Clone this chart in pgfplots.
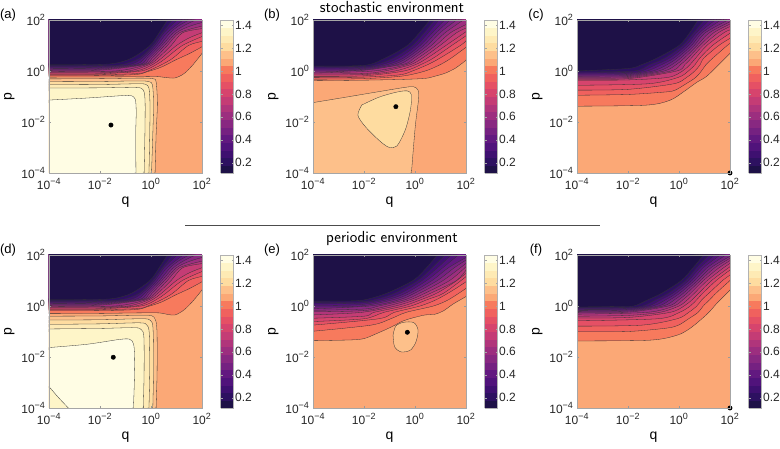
\documentclass[border=0pt]{standalone}
\usepackage{fontspec}
\setmainfont{Liberation Sans}
\usepackage{pgfplots}
\pgfplotsset{compat=1.18}
% band colours, lowest to highest (20 levels, 0.11 ... 1.445)
\definecolor{b0}{RGB}{30,17,71}    \definecolor{b1}{RGB}{45,17,96}
\definecolor{b2}{RGB}{62,16,112}   \definecolor{b3}{RGB}{80,19,123}
\definecolor{b4}{RGB}{98,25,128}   \definecolor{b5}{RGB}{117,33,129}
\definecolor{b6}{RGB}{136,40,129}  \definecolor{b7}{RGB}{156,46,127}
\definecolor{b8}{RGB}{176,53,123}  \definecolor{b9}{RGB}{196,60,117}
\definecolor{b10}{RGB}{214,68,109} \definecolor{b11}{RGB}{229,80,101}
\definecolor{b12}{RGB}{240,97,94}  \definecolor{b13}{RGB}{247,122,93}
\definecolor{b14}{RGB}{251,168,118} \definecolor{b15}{RGB}{253,192,138}
\definecolor{b16}{RGB}{254,220,160} \definecolor{b17}{RGB}{254,234,180}
\definecolor{b18}{RGB}{254,245,200} \definecolor{b19}{RGB}{255,253,228}
\pgfplotsset{
  colormap={bands}{
    rgb255=(30,17,71) rgb255=(45,17,96) rgb255=(62,16,112) rgb255=(80,19,123)
    rgb255=(98,25,128) rgb255=(117,33,129) rgb255=(136,40,129) rgb255=(156,46,127)
    rgb255=(176,53,123) rgb255=(196,60,117) rgb255=(214,68,109) rgb255=(229,80,101)
    rgb255=(240,97,94) rgb255=(247,122,93) rgb255=(251,168,118) rgb255=(253,192,138)
    rgb255=(254,220,160) rgb255=(254,234,180) rgb255=(254,245,200) rgb255=(255,253,228)},
}
\newcommand\tl[1]{10\textsuperscript{\fontsize{9}{9}\selectfont #1}}
\pgfplotsset{
  panel/.style={
    scale only axis, width=153pt, height=153pt,
    xmin=-4, xmax=2, ymin=-4, ymax=2,
    xtick={-4,-2,0,2}, ytick={-4,-2,0,2},
    xticklabels={\tl{−4},\tl{−2},\tl{0},\tl{2}},
    yticklabels={\tl{−4},\tl{−2},\tl{0},\tl{2}},
    tick label style={font=\fontsize{12}{13}\selectfont, text=black!85},
    xticklabel style={yshift=-2pt},
    tick align=inside, major tick length=2pt,
    tick style={gray!80},
    axis line style={gray!70},
    axis on top, clip mode=individual,
    axis background/.style={fill=b14},
    colormap name=bands, colormap access=piecewise constant,
    point meta min=0.11, point meta max=1.445,
    colorbar,
    colorbar style={
      at={(parent axis.north east)}, anchor=north west, xshift=10pt,
      width=13pt, height=153pt, scale only axis,
      ytick={0.2,0.4,0.6,0.8,1,1.2,1.4},
      yticklabels={0.2,0.4,0.6,0.8,1,1.2,1.4},
      yticklabel style={font=\fontsize{12}{13}\selectfont, text=black!85, inner xsep=1.5pt},
      major tick length=2pt, tick style={gray!70}, axis line style={gray!60},
    },
  },
  cl/.style={draw=black!80, line width=0.3pt, smooth},
  dot/.style={only marks, mark=*, mark size=2.2pt, black},
}
% region below a level: curve from left edge to top edge / to right edge
\newcommand\subT[2]{\addplot[fill=#1, cl] coordinates {#2} -- (-4.5,2.5) -- cycle;}
\newcommand\subR[2]{\addplot[fill=#1, cl] coordinates {#2} -- (2.5,2.5) -- (-4.5,2.5) -- cycle;}
% region above a level: curve from left edge to bottom edge
\newcommand\supB[2]{\addplot[fill=#1, cl] coordinates {#2} -- (-4.5,-4.5) -- cycle;}
\newcommand\isl[2]{\addplot[fill=#1, cl] coordinates {#2};}
\newcommand\panellabels[1]{%
  \node at (axis description cs:-0.268,1.033) {\fontsize{13}{14}\selectfont (#1)};
  \node[rotate=90] at (axis description cs:-0.26,0.5) {\fontsize{14}{15}\selectfont p};
  \node at (axis description cs:0.5,-0.19) {\fontsize{14}{15}\selectfont q};
}
% transition lines shared by (a) and (d)
\newcommand\topA{%
\subR{b12}{(-4,-0.19) (-2,-0.18) (-0.6,-0.14) (-0.15,-0.03) (0.4,0.15) (1,0.45) (1.5,0.68) (2,0.95)}
\subR{b11}{(-4,-0.15) (-2,-0.145) (-0.5,-0.1) (-0.12,0) (0.42,0.25) (0.85,0.5) (1.47,1) (2,1.16)}
\subR{b10}{(-4,-0.115) (-2,-0.11) (-0.39,0) (0.21,0.25) (0.58,0.5) (1.23,1) (2,1.35)}
\subR{b9}{(-4,-0.08) (-2,-0.075) (-0.59,0) (0.06,0.25) (0.41,0.5) (1.0,1) (1.5,1.3) (2,1.5)}
\subR{b8}{(-4,-0.045) (-2,-0.04) (-0.87,0) (-0.07,0.25) (0.27,0.5) (0.79,1) (1.24,1.5) (2,1.66)}
\subR{b7}{(-4,-0.01) (-1.4,0) (-0.18,0.25) (0.16,0.5) (0.64,1) (1.12,1.5) (2,1.76)}
\subR{b6}{(-4,0.025) (-2,0.035) (-0.28,0.25) (0.04,0.5) (0.53,1) (1.0,1.5) (1.5,1.75) (2,1.9)}
\subT{b5}{(-4,0.06) (-2,0.07) (-0.37,0.25) (-0.06,0.5) (0.43,1) (0.88,1.5) (1.3,1.78) (1.75,2)}
\subT{b4}{(-4,0.095) (-2,0.105) (-0.47,0.25) (-0.15,0.5) (0.34,1) (0.75,1.5) (1.1,1.78) (1.5,2)}
\subT{b3}{(-4,0.13) (-2,0.14) (-0.63,0.25) (-0.25,0.5) (0.24,1) (0.63,1.5) (1.26,2)}
\subT{b2}{(-4,0.165) (-2,0.175) (-0.84,0.25) (-0.36,0.5) (0.15,1) (0.51,1.5) (1.03,2)}
\subT{b1}{(-4,0.2) (-2,0.21) (-1.16,0.25) (-0.46,0.5) (0.07,1) (0.44,1.5) (0.84,2)}
\subT{b0}{(-4,0.24) (-2.6,0.25) (-1.5,0.29) (-0.77,0.5) (-0.04,1) (0.32,1.5) (0.64,2)}
}
\begin{document}
\begin{tikzpicture}
\path[use as bounding box] (0pt,0pt) rectangle (780pt,-449pt);

% (a) stochastic
\begin{axis}[panel, at={(49pt,-20pt)}, anchor=north west]
\supB{b15}{(-4,-0.31) (-2,-0.3) (-0.5,-0.28) (0.06,-0.3) (0.2,-0.43) (0.25,-1.3) (0.2,-2.5) (0.16,-4)}
\supB{b16}{(-4,-0.42) (-2,-0.41) (-0.5,-0.39) (-0.07,-0.42) (0.06,-0.56) (0.1,-1.3) (0.07,-2.5) (0.02,-4)}
\supB{b17}{(-4,-0.54) (-2,-0.53) (-0.5,-0.5) (-0.2,-0.53) (-0.08,-0.68) (-0.04,-1.3) (-0.05,-2.5) (-0.08,-4)}
\supB{b18}{(-4,-0.67) (-2,-0.66) (-0.7,-0.64) (-0.4,-0.67) (-0.27,-0.82) (-0.23,-1.3) (-0.24,-2.5) (-0.27,-4)}
\supB{b19}{(-4,-1.14) (-2.5,-1.06) (-1.2,-0.97) (-0.8,-0.96) (-0.62,-1.1) (-0.58,-1.6) (-0.6,-2.5) (-0.59,-4)}
\subR{b13}{(-4,-0.24) (-2,-0.235) (-0.5,-0.225) (0.25,-0.22) (0.6,-0.26) (0.95,-0.27) (1.3,-0.1) (1.65,0.25) (2,0.69)}
\topA
\addplot[dot] coordinates {(-1.57,-2.12)};
\panellabels{a}
\end{axis}

% (b) stochastic
\begin{axis}[panel, at={(313pt,-20pt)}, anchor=north west]
\supB{b15}{(-4,-1.24) (-2.73,-1.03) (-1.42,-0.81) (-0.38,-0.64) (-0.05,-0.62) (0.12,-0.75) (0.14,-1.1) (0.01,-2.18) (-0.14,-4)}
\isl{b16}{(-2.08,-1.33) (-1.42,-1.03) (-0.77,-0.84) (-0.31,-0.78) (-0.14,-0.94) (-0.18,-1.53) (-0.38,-2.31) (-0.71,-2.94) (-1.03,-2.99) (-1.42,-2.71) (-1.95,-2.18) (-2.24,-1.73) (-2.08,-1.33)}
\subR{b13}{(-4,-0.38) (-2,-0.36) (-0.5,-0.33) (0.4,-0.29) (0.8,-0.2) (1.2,-0.08) (1.6,0.12) (2,0.42)}
\subR{b12}{(-4,-0.32) (-2,-0.3) (-0.5,-0.2) (0.4,0) (0.99,0.25) (1.41,0.5) (2,0.93)}
\subR{b11}{(-4,-0.26) (-2,-0.24) (-0.6,-0.15) (-0.1,0) (0.5,0.25) (0.97,0.5) (1.78,1) (2,1.18)}
\subR{b10}{(-4,-0.21) (-2,-0.19) (-0.43,0) (0.23,0.25) (0.71,0.5) (1.44,1) (2,1.38)}
\subR{b9}{(-4,-0.16) (-2,-0.14) (-0.78,0) (0.02,0.25) (0.47,0.5) (1.21,1) (2,1.54)}
\subR{b8}{(-4,-0.12) (-2,-0.1) (-1.18,0) (-0.17,0.25) (0.28,0.5) (0.98,1) (1.63,1.5) (2,1.68)}
\subR{b7}{(-4,-0.08) (-1.63,0) (-0.34,0.25) (0.11,0.5) (0.81,1) (1.39,1.5) (2,1.82)}
\subT{b6}{(-4,-0.04) (-2.58,0) (-0.51,0.25) (-0.05,0.5) (0.64,1) (1.18,1.5) (1.9,2)}
\subT{b5}{(-4,0) (-2,0.03) (-0.69,0.25) (-0.19,0.5) (0.48,1) (0.98,1.5) (1.63,2)}
\subT{b4}{(-4,0.04) (-2,0.06) (-0.88,0.25) (-0.33,0.5) (0.34,1) (0.83,1.5) (1.38,2)}
\subT{b3}{(-4,0.08) (-2,0.1) (-1.08,0.25) (-0.46,0.5) (0.2,1) (0.68,1.5) (1.16,2)}
\subT{b2}{(-4,0.12) (-2,0.14) (-1.3,0.25) (-0.66,0.5) (0.06,1) (0.52,1.5) (0.94,2)}
\subT{b1}{(-4,0.16) (-2,0.18) (-1.54,0.25) (-0.86,0.5) (-0.1,1) (0.36,1.5) (0.76,2)}
\subT{b0}{(-4,0.2) (-2,0.22) (-1.19,0.5) (-0.3,1) (0.17,1.5) (0.58,2)}
\addplot[dot] coordinates {(-0.75,-1.4)};
\panellabels{b}
\end{axis}

% (c) stochastic
\begin{axis}[panel, at={(577pt,-20pt)}, anchor=north west]
\subR{b13}{(-4,-1.38) (-1.3,-1.34) (-0.36,-1.15) (0.2,-0.8) (0.69,-0.45) (1.07,-0.22) (1.48,0.17) (2,0.69)}
\subR{b12}{(-4,-0.95) (-2,-0.92) (-0.5,-0.82) (-0.15,-0.75) (0.28,-0.5) (0.66,-0.25) (0.88,0) (1.06,0.25) (1.32,0.5) (1.89,1) (2,1.08)}
\subR{b11}{(-4,-0.75) (-2,-0.72) (-0.2,-0.5) (0.3,-0.25) (0.62,0) (0.83,0.25) (0.97,0.5) (1.56,1) (2,1.28)}
\subR{b10}{(-4,-0.56) (-1.2,-0.5) (-0.03,-0.25) (0.37,0) (0.63,0.25) (0.81,0.5) (1.31,1) (2,1.48)}
\subR{b9}{(-4,-0.36) (-2,-0.35) (-0.43,-0.25) (0.14,0) (0.43,0.25) (0.65,0.5) (1.09,1) (1.76,1.5) (2,1.61)}
\subR{b8}{(-4,-0.32) (-2,-0.3) (-0.09,0) (0.23,0.25) (0.48,0.5) (0.94,1) (1.54,1.5) (2,1.74)}
\subR{b7}{(-4,-0.28) (-2,-0.26) (-0.32,0) (0.06,0.25) (0.34,0.5) (0.82,1) (1.36,1.5) (2,1.84)}
\subR{b6}{(-4,-0.24) (-2,-0.22) (-0.58,0) (-0.11,0.25) (0.2,0.5) (0.71,1) (1.19,1.5) (2,1.93)}
\subT{b5}{(-4,-0.2) (-2,-0.18) (-0.8,0) (-0.28,0.25) (0.06,0.5) (0.6,1) (1.03,1.5) (1.93,2)}
\subT{b4}{(-4,-0.16) (-2,-0.14) (-1.02,0) (-0.46,0.25) (-0.08,0.5) (0.49,1) (0.91,1.5) (1.65,2)}
\subT{b3}{(-4,-0.12) (-2,-0.1) (-1.25,0) (-0.68,0.25) (-0.21,0.5) (0.38,1) (0.8,1.5) (1.42,2)}
\subT{b2}{(-4,-0.08) (-2,-0.06) (-1.47,0) (-0.9,0.25) (-0.38,0.5) (0.27,1) (0.68,1.5) (1.2,2)}
\subT{b1}{(-4,-0.04) (-1.78,0) (-1.16,0.25) (-0.57,0.5) (0.14,1) (0.57,1.5) (0.98,2)}
\subT{b0}{(-4,0) (-2,0.1) (-1.47,0.25) (-0.88,0.5) (0,1) (0.42,1.5) (0.74,2)}
\addplot[dot] coordinates {(2,-4)};
\panellabels{c}
\end{axis}

% (d) periodic
\begin{axis}[panel, at={(49pt,-255pt)}, anchor=north west]
\supB{b15}{(-4,-0.4) (-2,-0.39) (-0.25,-0.36) (0.12,-0.44) (0.23,-0.9) (0.24,-2.5) (0.2,-4)}
\supB{b16}{(-4,-0.55) (-2,-0.54) (-0.35,-0.5) (-0.02,-0.57) (0.08,-0.9) (0.1,-2.5) (0.07,-4)}
\supB{b17}{(-4,-0.72) (-2,-0.7) (-0.45,-0.66) (-0.17,-0.74) (-0.07,-1.05) (-0.05,-2.5) (-0.08,-4)}
\supB{b18}{(-4,-0.9) (-2,-0.88) (-0.65,-0.85) (-0.38,-0.93) (-0.28,-1.2) (-0.27,-2.5) (-0.3,-4)}
\supB{b19}{(-4,-1.63) (-2.5,-1.5) (-1.3,-1.32) (-0.85,-1.3) (-0.68,-1.5) (-0.64,-2.2) (-0.66,-3.2) (-0.69,-4)}
\supB{b18}{(-4,-3.16) (-3.62,-3.6) (-3.24,-4)}
\subR{b13}{(-4,-0.3) (-2,-0.29) (-0.5,-0.27) (0.3,-0.27) (0.65,-0.33) (0.95,-0.35) (1.3,-0.15) (1.65,0.2) (2,0.63)}
\topA
\addplot[dot] coordinates {(-1.48,-2.01)};
\panellabels{d}
\end{axis}

% (e) periodic
\begin{axis}[panel, at={(313pt,-255pt)}, anchor=north west]
\isl{b15}{(-0.86,-1.14) (-0.75,-0.78) (-0.44,-0.64) (-0.05,-0.65) (0.12,-0.94) (0.04,-1.4) (-0.18,-1.73) (-0.54,-1.8) (-0.8,-1.6) (-0.86,-1.14)}
\subR{b13}{(-4,-1.36) (-2.5,-1.33) (-2,-1.28) (-1.5,-1.08) (-0.9,-0.81) (-0.5,-0.6) (-0.1,-0.47) (0.4,-0.35) (0.75,-0.33) (1.1,-0.2) (1.5,0.08) (2,0.37)}
\subR{b12}{(-4,-0.99) (-1.72,-0.75) (-0.95,-0.5) (-0.35,-0.25) (0.72,0) (1.32,0.25) (2,0.69)}
\subR{b11}{(-4,-0.75) (-1.42,-0.5) (-0.81,-0.25) (0.2,0) (0.84,0.25) (1.46,0.6) (2,0.95)}
\subR{b10}{(-4,-0.61) (-2,-0.5) (-1.22,-0.25) (-0.16,0) (0.48,0.25) (1.12,0.5) (2,1.15)}
\subR{b9}{(-4,-0.48) (-2,-0.4) (-1.61,-0.25) (-0.46,0) (0.24,0.25) (0.85,0.5) (1.5,0.9) (2,1.28)}
\subR{b8}{(-4,-0.35) (-2.1,-0.25) (-0.77,0) (0.03,0.25) (0.61,0.5) (1.63,1) (2,1.41)}
\subR{b7}{(-4,-0.23) (-2,-0.18) (-1.08,0) (-0.18,0.25) (0.39,0.5) (1.36,1) (2,1.54)}
\subR{b6}{(-4,-0.17) (-2,-0.12) (-1.42,0) (-0.38,0.25) (0.18,0.5) (1.1,1) (2,1.67)}
\subR{b5}{(-4,-0.11) (-1.77,0) (-0.6,0.25) (-0.02,0.5) (0.88,1) (1.54,1.5) (2,1.8)}
\subR{b4}{(-4,-0.04) (-2.2,-0.01) (-0.84,0.25) (-0.19,0.5) (0.67,1) (1.31,1.5) (2,1.9)}
\subT{b3}{(-4,0.02) (-2.2,0.05) (-1.08,0.25) (-0.37,0.5) (0.46,1) (1.09,1.5) (1.7,2)}
\subT{b2}{(-4,0.08) (-2.2,0.11) (-1.32,0.25) (-0.57,0.5) (0.28,1) (0.88,1.5) (1.42,2)}
\subT{b1}{(-4,0.13) (-2.2,0.16) (-1.58,0.25) (-0.81,0.5) (0.11,1) (0.67,1.5) (1.17,2)}
\subT{b0}{(-4,0.19) (-2.5,0.2) (-1.94,0.25) (-1.11,0.5) (-0.08,1) (0.45,1.5) (0.87,2)}
\addplot[dot] coordinates {(-0.3,-1.03)};
\panellabels{e}
\end{axis}

% (f) periodic
\begin{axis}[panel, at={(577pt,-255pt)}, anchor=north west]
\subR{b13}{(-4,-1.37) (-1.14,-1.34) (-0.09,-1.15) (0.4,-0.9) (0.83,-0.56) (1.2,-0.22) (1.48,0.1) (2,0.62)}
\subR{b12}{(-4,-1.01) (-2,-1.0) (-0.5,-0.87) (-0.02,-0.75) (0.38,-0.5) (0.75,-0.25) (0.95,0) (1.21,0.25) (1.45,0.5) (2,1.0)}
\subR{b11}{(-4,-0.79) (-1.45,-0.75) (-0.07,-0.5) (0.38,-0.25) (0.7,0) (0.9,0.25) (1.17,0.5) (1.71,1) (2,1.21)}
\subR{b10}{(-4,-0.58) (-0.83,-0.5) (0.02,-0.25) (0.44,0) (0.7,0.25) (0.93,0.5) (1.46,1) (2,1.41)}
\subR{b9}{(-4,-0.47) (-2,-0.45) (-0.35,-0.25) (0.2,0) (0.52,0.25) (0.77,0.5) (1.28,1) (2,1.54)}
\subR{b8}{(-4,-0.4) (-2,-0.37) (-0.75,-0.25) (0,0) (0.34,0.25) (0.6,0.5) (1.11,1) (1.75,1.5) (2,1.67)}
\subR{b7}{(-4,-0.32) (-1.25,-0.25) (-0.2,0) (0.16,0.25) (0.45,0.5) (0.96,1) (1.57,1.5) (2,1.78)}
\subR{b6}{(-4,-0.25) (-2,-0.24) (-0.42,0) (0,0.25) (0.31,0.5) (0.84,1) (1.4,1.5) (2,1.87)}
\subR{b5}{(-4,-0.21) (-2,-0.2) (-0.62,0) (-0.17,0.25) (0.17,0.5) (0.73,1) (1.25,1.5) (2,1.95)}
\subT{b4}{(-4,-0.17) (-2,-0.16) (-0.8,0) (-0.34,0.25) (0.03,0.5) (0.61,1) (1.1,1.5) (1.84,2)}
\subT{b3}{(-4,-0.14) (-2,-0.13) (-1.02,0) (-0.51,0.25) (-0.11,0.5) (0.5,1) (0.95,1.5) (1.62,2)}
\subT{b2}{(-4,-0.1) (-2,-0.09) (-1.2,0) (-0.71,0.25) (-0.25,0.5) (0.38,1) (0.82,1.5) (1.4,2)}
\subT{b1}{(-4,-0.07) (-2,-0.06) (-1.42,0) (-0.9,0.25) (-0.42,0.5) (0.26,1) (0.69,1.5) (1.18,2)}
\subT{b0}{(-4,-0.04) (-2.3,-0.02) (-1.77,0) (-1.21,0.25) (-0.68,0.5) (0.09,1) (0.55,1.5) (0.96,2)}
\addplot[dot] coordinates {(2,-4)};
\panellabels{f}
\end{axis}

\draw[gray!60!black, line width=0.6pt] (185pt,-225pt) -- (600pt,-225pt);
\node at (392pt,-7pt) {\sffamily\fontsize{16}{17}\selectfont stochastic environment};
\node at (392pt,-239pt) {\sffamily\fontsize{16}{17}\selectfont periodic environment};
\end{tikzpicture}
\end{document}
